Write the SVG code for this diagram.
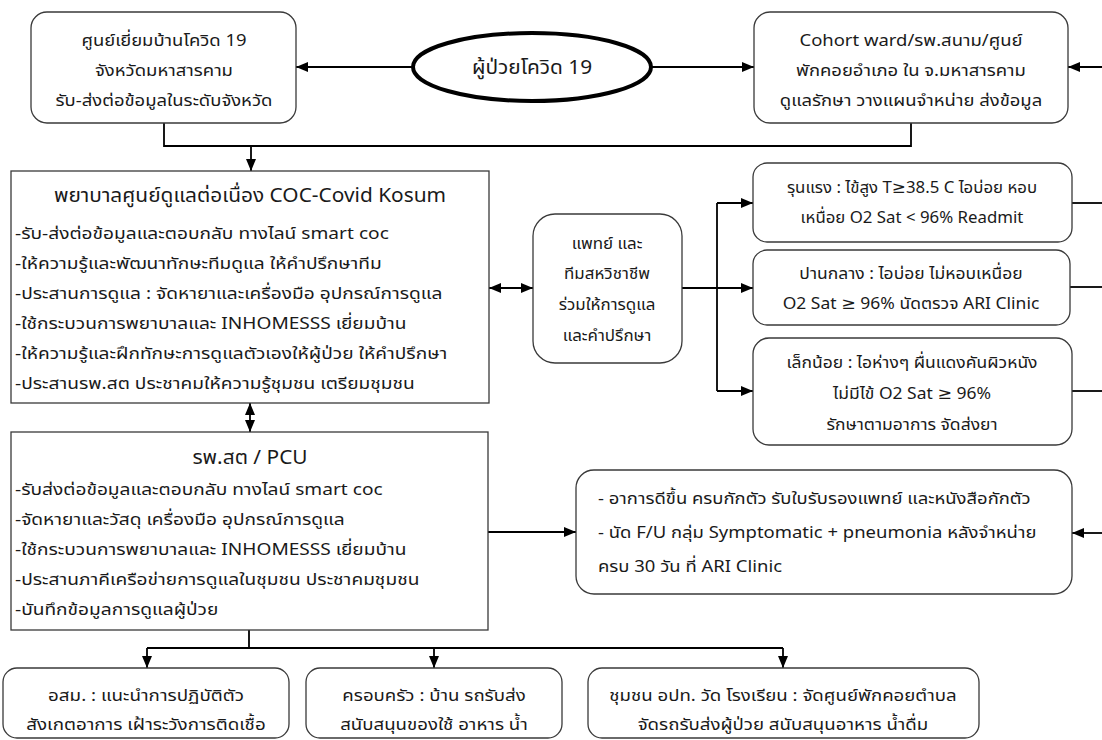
<svg xmlns="http://www.w3.org/2000/svg" width="1102" height="740" viewBox="0 0 1102 740">
<defs>
<style>
.bx{fill:#fff;stroke:#3a3a3a;stroke-width:1.3}
.t{font-family:'Noto Sans Thai','Noto Sans','DejaVu Sans',sans-serif;font-size:16.5px;fill:#1a1a1a}
.h{font-size:19.5px}
.e{font-size:16px}
.c{text-anchor:middle}
.ln{fill:none;stroke:#000;stroke-width:1.8}
</style>
<marker id="ah" viewBox="0 0 12 10" markerWidth="12" markerHeight="10" refX="12" refY="5" orient="auto-start-reverse" markerUnits="userSpaceOnUse">
<path d="M0,0 L12,5 L0,10 z" fill="#000"/>
</marker>
</defs>
<rect width="1102" height="740" fill="#fff"/>

<g id="connectors">
<path class="ln" d="M413,67 H296" marker-end="url(#ah)"/>
<path class="ln" d="M651,67 H754" marker-end="url(#ah)"/>
<path class="ln" d="M1102,67 H1068" marker-end="url(#ah)"/>
<path class="ln" d="M164,123 V146 H911 V123"/>
<path class="ln" d="M251,146 V171" marker-end="url(#ah)"/>
<path class="ln" d="M489,288 H533" marker-start="url(#ah)" marker-end="url(#ah)"/>
<path class="ln" d="M682,288 H753" marker-end="url(#ah)"/>
<path class="ln" d="M717,203 V391"/>
<path class="ln" d="M717,203 H753" marker-end="url(#ah)"/>
<path class="ln" d="M717,391 H753" marker-end="url(#ah)"/>
<path class="ln" d="M1072,203 H1102"/>
<path class="ln" d="M1070,287 H1102"/>
<path class="ln" d="M1072,391 H1102"/>
<path class="ln" d="M250,403 V432" marker-start="url(#ah)" marker-end="url(#ah)"/>
<path class="ln" d="M488,532 H576" marker-end="url(#ah)"/>
<path class="ln" d="M1102,533 H1072" marker-end="url(#ah)"/>
<path class="ln" d="M249,630 V648"/>
<path class="ln" d="M147,648 H783"/>
<path class="ln" d="M147,648 V668" marker-end="url(#ah)"/>
<path class="ln" d="M434,648 V668" marker-end="url(#ah)"/>
<path class="ln" d="M783,648 V668" marker-end="url(#ah)"/>
</g>

<g id="node-patient">
<ellipse cx="532" cy="67" rx="119" ry="34" fill="#fff" stroke="#000" stroke-width="4"/>
<text class="t h c" transform="translate(532,74) scale(1.07,1)">ผู้ป่วยโควิด 19</text>
</g>

<g id="node-homevisit">
<rect class="bx" x="31" y="12" width="265" height="111" rx="16"/>
<text class="t c" transform="translate(164,46) scale(1.12,1)">ศูนย์เยี่ยมบ้านโควิด 19</text>
<text class="t c" transform="translate(164,76) scale(1.12,1)">จังหวัดมหาสารคาม</text>
<text class="t c" transform="translate(164,106) scale(1.12,1)">รับ-ส่งต่อข้อมูลในระดับจังหวัด</text>
</g>

<g id="node-cohort">
<rect class="bx" x="754" y="12" width="314" height="111" rx="16"/>
<text class="t c" transform="translate(911,46) scale(1.12,1)">Cohort ward/รพ.สนาม/ศูนย์</text>
<text class="t c" transform="translate(911,76) scale(1.12,1)">พักคอยอำเภอ ใน จ.มหาสารคาม</text>
<text class="t c" transform="translate(911,106) scale(1.12,1)">ดูแลรักษา วางแผนจำหน่าย ส่งข้อมูล</text>
</g>

<g id="node-coc">
<rect class="bx" x="11" y="171" width="478" height="232"/>
<text class="t h c" transform="translate(250,202) scale(1.07,1)">พยาบาลศูนย์ดูแลต่อเนื่อง COC-Covid Kosum</text>
<text class="t" transform="translate(15,239) scale(1.16,1)">-รับ-ส่งต่อข้อมูลและตอบกลับ ทางไลน์ smart coc</text>
<text class="t" transform="translate(15,269) scale(1.16,1)">-ให้ความรู้และพัฒนาทักษะทีมดูแล ให้คำปรึกษาทีม</text>
<text class="t" transform="translate(15,299) scale(1.16,1)">-ประสานการดูแล : จัดหายาและเครื่องมือ อุปกรณ์การดูแล</text>
<text class="t" transform="translate(15,329) scale(1.16,1)">-ใช้กระบวนการพยาบาลและ INHOMESSS เยี่ยมบ้าน</text>
<text class="t" transform="translate(15,359) scale(1.16,1)">-ให้ความรู้และฝึกทักษะการดูแลตัวเองให้ผู้ป่วย ให้คำปรึกษา</text>
<text class="t" transform="translate(15,389) scale(1.16,1)">-ประสานรพ.สต ประชาคมให้ความรู้ชุมชน เตรียมชุมชน</text>
</g>

<g id="node-team">
<rect class="bx" x="533" y="214" width="149" height="149" rx="22"/>
<text class="t e c" transform="translate(607,249) scale(1.06,1)">แพทย์ และ</text>
<text class="t e c" transform="translate(607,279) scale(1.06,1)">ทีมสหวิชาชีพ</text>
<text class="t e c" transform="translate(607,310) scale(1.06,1)">ร่วมให้การดูแล</text>
<text class="t e c" transform="translate(607,341) scale(1.06,1)">และคำปรึกษา</text>
</g>

<g id="node-severe">
<rect class="bx" x="753" y="163" width="319" height="79" rx="14"/>
<text class="t c" transform="translate(912,193) scale(1.02,1)">รุนแรง : ไข้สูง T≥38.5 C ไอบ่อย หอบ</text>
<text class="t c" transform="translate(912,223) scale(1.02,1)">เหนื่อย O2 Sat &lt; 96% Readmit</text>
</g>

<g id="node-moderate">
<rect class="bx" x="753" y="250" width="317" height="75" rx="14"/>
<text class="t c" transform="translate(911,279) scale(1.06,1)">ปานกลาง : ไอบ่อย ไม่หอบเหนื่อย</text>
<text class="t c" transform="translate(911,309) scale(1.06,1)">O2 Sat ≥ 96% นัดตรวจ ARI Clinic</text>
</g>

<g id="node-mild">
<rect class="bx" x="753" y="338" width="319" height="107" rx="16"/>
<text class="t c" transform="translate(912,368) scale(1.06,1)">เล็กน้อย : ไอห่างๆ ผื่นแดงคันผิวหนัง</text>
<text class="t c" transform="translate(912,399) scale(1.06,1)">ไม่มีไข้ O2 Sat ≥ 96%</text>
<text class="t c" transform="translate(912,430) scale(1.06,1)">รักษาตามอาการ จัดส่งยา</text>
</g>

<g id="node-pcu">
<rect class="bx" x="11" y="432" width="477" height="198"/>
<text class="t h c" transform="translate(250,464) scale(1.07,1)">รพ.สต / PCU</text>
<text class="t" transform="translate(15,495) scale(1.16,1)">-รับส่งต่อข้อมูลและตอบกลับ ทางไลน์ smart coc</text>
<text class="t" transform="translate(15,525) scale(1.16,1)">-จัดหายาและวัสดุ เครื่องมือ อุปกรณ์การดูแล</text>
<text class="t" transform="translate(15,555) scale(1.16,1)">-ใช้กระบวนการพยาบาลและ INHOMESSS เยี่ยมบ้าน</text>
<text class="t" transform="translate(15,585) scale(1.16,1)">-ประสานภาคีเครือข่ายการดูแลในชุมชน ประชาคมชุมชน</text>
<text class="t" transform="translate(15,615) scale(1.16,1)">-บันทึกข้อมูลการดูแลผู้ป่วย</text>
</g>

<g id="node-discharge">
<rect class="bx" x="576" y="470" width="496" height="124" rx="18"/>
<text class="t" transform="translate(598,504) scale(1.12,1)">- อาการดีขึ้น ครบกักตัว รับใบรับรองแพทย์ และหนังสือกักตัว</text>
<text class="t" transform="translate(598,538) scale(1.12,1)">- นัด F/U กลุ่ม Symptomatic + pneumonia หลังจำหน่าย</text>
<text class="t" transform="translate(598,572) scale(1.12,1)">ครบ 30 วัน ที่ ARI Clinic</text>
</g>

<g id="node-osm">
<rect class="bx" x="3" y="668" width="286" height="70" rx="14"/>
<text class="t c" transform="translate(146,701) scale(1.14,1)">อสม. : แนะนำการปฏิบัติตัว</text>
<text class="t c" transform="translate(146,730) scale(1.14,1)">สังเกตอาการ  เฝ้าระวังการติดเชื้อ</text>
</g>

<g id="node-family">
<rect class="bx" x="306" y="668" width="256" height="70" rx="14"/>
<text class="t c" transform="translate(434,701) scale(1.13,1)">ครอบครัว : บ้าน รถรับส่ง</text>
<text class="t c" transform="translate(434,730) scale(1.13,1)">สนับสนุนของใช้ อาหาร น้ำ</text>
</g>

<g id="node-community">
<rect class="bx" x="588" y="668" width="391" height="70" rx="14"/>
<text class="t c" transform="translate(783,701) scale(1.13,1)">ชุมชน  อปท. วัด โรงเรียน : จัดศูนย์พักคอยตำบล</text>
<text class="t c" transform="translate(783,730) scale(1.13,1)">จัดรถรับส่งผู้ป่วย สนับสนุนอาหาร น้ำดื่ม</text>
</g>
</svg>
